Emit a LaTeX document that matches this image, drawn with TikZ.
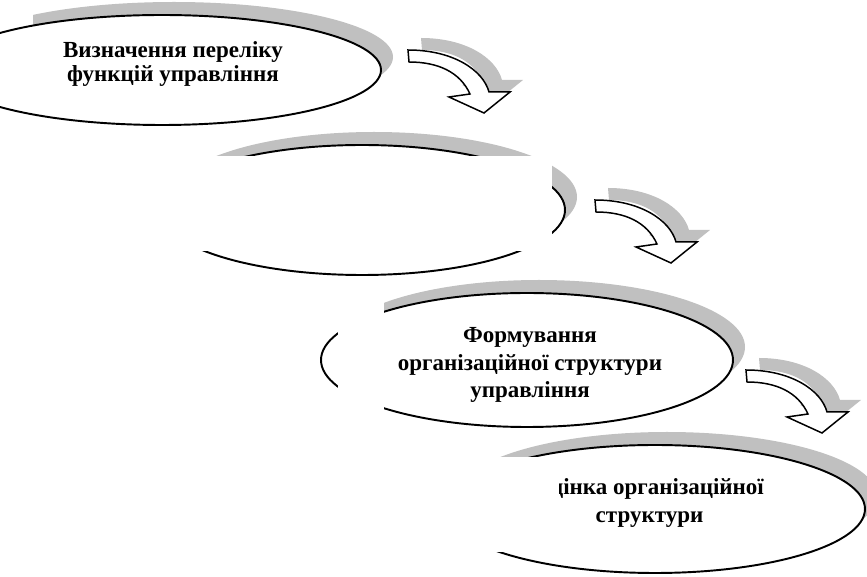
\documentclass[tikz,border=0pt]{standalone}
\usepackage{fontspec}
\setmainfont{Liberation Serif}
\usepackage{tikz}
\definecolor{shadowgrey}{RGB}{192,192,192}

\begin{document}
\begin{tikzpicture}[x=0.02cm, y=0.02cm]
\tikzstyle{every node}+=[inner sep=0pt]
\tikzstyle{stagetext}=[align=center, font=\bfseries\fontsize{13.1}{15.4}\selectfont]
\tikzstyle{stageoval}=[black, line width=1.1pt, fill=white]
\tikzstyle{bentarrow}=[black, line width=0.85pt, fill=white, line join=miter]
\clip (0,0) rectangle (867,-577);
\fill [white] (0,0) rectangle (867,-577);
% first stage
\fill [shadowgrey] (174,-57) ellipse (219 and 55);
\fill [white] (0,0) rectangle (33,-45);
\draw [stageoval] (162,-70) ellipse (219 and 55);
\draw (173,-64) node (define) [stagetext] {Визначення переліку\\[-2pt]функцій управління};
\fill [shadowgrey, shift={(13,12)}] (408,-50) .. controls (453,-50) and (483,-70) .. (489,-92) -- (510,-92) -- (484,-113) -- (449,-97) -- (470,-94) .. controls (460,-72) and (438,-62) .. (409,-62) -- cycle;
\draw [bentarrow] (408,-50) .. controls (453,-50) and (483,-70) .. (489,-92) -- (510,-92) -- (484,-113) -- (449,-97) -- (470,-94) .. controls (460,-72) and (438,-62) .. (409,-62) -- cycle;
% second stage
\fill [shadowgrey] (374,-197) ellipse (203 and 65);
\draw [stageoval] (362,-210) ellipse (203 and 65);
\fill [white] (150,-156) rectangle (552,-251);
\fill [shadowgrey, shift={(13,12)}] (595,-200) .. controls (640,-200) and (670,-220) .. (676,-242) -- (697,-242) -- (671,-263) -- (636,-247) -- (657,-244) .. controls (647,-222) and (625,-212) .. (596,-212) -- cycle;
\draw [bentarrow] (595,-200) .. controls (640,-200) and (670,-220) .. (676,-242) -- (697,-242) -- (671,-263) -- (636,-247) -- (657,-244) .. controls (647,-222) and (625,-212) .. (596,-212) -- cycle;
% third stage
\fill [shadowgrey] (539,-347) ellipse (206 and 67);
\draw [stageoval] (527,-360) ellipse (206 and 67);
\fill [white] (338,-296) rectangle (384,-410);
\draw (530,-365) node (form) [stagetext] {Формування\\організаційної структури\\управління};
\fill [shadowgrey, shift={(13,12)}] (746,-370) .. controls (791,-370) and (821,-390) .. (827,-412) -- (848,-412) -- (822,-433) -- (787,-417) -- (808,-414) .. controls (798,-392) and (776,-382) .. (747,-382) -- cycle;
\draw [bentarrow] (746,-370) .. controls (791,-370) and (821,-390) .. (827,-412) -- (848,-412) -- (822,-433) -- (787,-417) -- (808,-414) .. controls (798,-392) and (776,-382) .. (747,-382) -- cycle;
% fourth stage
\fill [shadowgrey] (667,-496) ellipse (210 and 64);
\draw [stageoval] (655,-509) ellipse (210 and 64);
\draw (657,-503) node (assess) [stagetext] {цінка організаційної\\структури\hspace*{8.5pt}};
\fill [white] (430,-457) rectangle (540,-552);
\fill [white] (540,-472) rectangle (559,-502);
\end{tikzpicture}
\end{document}
